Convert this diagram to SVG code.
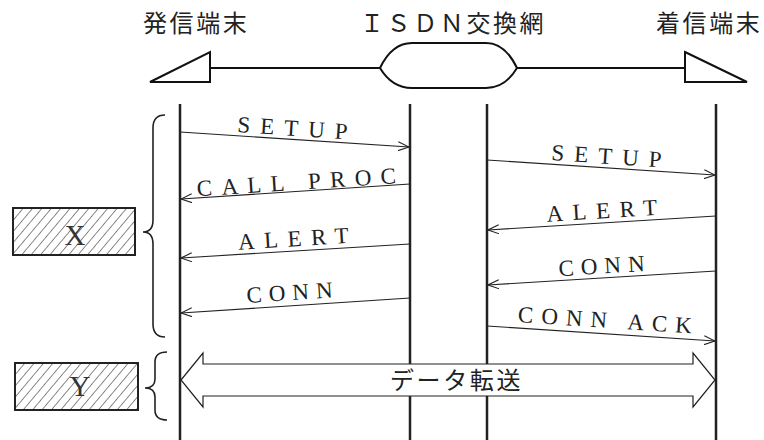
<svg xmlns="http://www.w3.org/2000/svg" width="764" height="440" viewBox="0 0 764 440">
<style>
.jp{font-family:"Noto Sans CJK JP","Noto Sans",sans-serif;font-size:24px;fill:#222;letter-spacing:2.6px}
.msg{font-family:"Liberation Serif","DejaVu Serif",serif;font-size:23px;fill:#222;letter-spacing:9.4px;text-anchor:middle}
.box{font-family:"Liberation Serif","DejaVu Serif",serif;font-size:29px;fill:#333;text-anchor:middle}
.life{stroke:#222;stroke-width:2.5;fill:none}
.thick{stroke:#111;stroke-width:2;fill:#fff}
.arr{stroke:#222;stroke-width:1.1;fill:none;marker-end:url(#ah)}
.brace{stroke:#222;stroke-width:1.6;fill:none}
</style>
<defs>
<marker id="ah" viewBox="0 0 12 10" refX="11" refY="5" markerWidth="12" markerHeight="10" markerUnits="userSpaceOnUse" orient="auto">
<path d="M0,0.5 L11,5 L0,9.5" fill="none" stroke="#222" stroke-width="1.1"/>
</marker>
<pattern id="hatch" width="7.2" height="7.2" patternUnits="userSpaceOnUse" patternTransform="rotate(40)">
<rect width="7.2" height="7.2" fill="#fff"/>
<line x1="0" y1="0" x2="0" y2="7.2" stroke="#2a2a2a" stroke-width="1.1"/>
</pattern>
</defs>
<rect width="764" height="440" fill="#fff"/>

<g id="labels">
<text class="jp" x="143" y="32">発信端末</text>
<text class="jp" x="360" y="32">ＩＳＤＮ交換網</text>
<text class="jp" x="656" y="32">着信端末</text>
</g>

<g id="topline">
<line x1="210" y1="68" x2="380" y2="68" stroke="#111" stroke-width="2"/>
<line x1="517" y1="68" x2="685" y2="68" stroke="#111" stroke-width="2"/>
</g>
<g id="caller-terminal"><polygon class="thick" points="150,82 210,52 210,82"/></g>
<g id="isdn-network"><path class="thick" d="M380,68 Q392,43 412,43 L486,43 Q505,43 517,68 Q505,88 486,88 L412,88 Q392,88 380,68 Z"/></g>
<g id="callee-terminal"><polygon class="thick" points="685,52 747,82 685,82"/></g>

<g id="lifelines">
<line class="life" x1="180" y1="104" x2="180" y2="440"/>
<line class="life" x1="410" y1="104" x2="410" y2="440"/>
<line class="life" x1="487" y1="104" x2="487" y2="440"/>
<line class="life" x1="716" y1="104" x2="716" y2="440"/>
</g>

<g id="box-x">
<rect x="13" y="208" width="122" height="47" fill="url(#hatch)" stroke="#222" stroke-width="2"/>
<text class="box" x="75" y="245">X</text>
</g>
<g id="box-y">
<rect x="15" y="363" width="123" height="47" fill="url(#hatch)" stroke="#222" stroke-width="2"/>
<text class="box" x="80" y="396">Y</text>
</g>
<g id="braces">
<path class="brace" d="M165,115 Q153,115 153,128 L153,220 Q153,232 143,232 Q153,232 153,244 L153,324 Q153,337 165,337"/>
<path class="brace" d="M167,352 Q155,352 155,362 L155,379 Q155,388 145,388 Q155,388 155,397 L155,410 Q155,420 167,420"/>
</g>

<g id="connectors">
<line class="arr" x1="180" y1="132" x2="409" y2="147"/>
<line class="arr" x1="410" y1="184" x2="181" y2="199"/>
<line class="arr" x1="410" y1="244" x2="181" y2="258"/>
<line class="arr" x1="410" y1="298" x2="181" y2="313"/>
<line class="arr" x1="487" y1="160" x2="715" y2="175"/>
<line class="arr" x1="716" y1="216" x2="488" y2="230"/>
<line class="arr" x1="716" y1="271" x2="488" y2="285"/>
<line class="arr" x1="487" y1="326" x2="715" y2="341"/>
<polygon points="181,380 203,353 203,364 693,364 693,353 715,380 693,407 693,396 203,396 203,407" fill="#fff" stroke="#222" stroke-width="1.2"/>
</g>

<g id="connector-labels">
<text class="msg" transform="translate(297,136) rotate(3.73)" style="letter-spacing:10px">SETUP</text>
<text class="msg" transform="translate(301.5,189.5) rotate(-3.73)" style="letter-spacing:9.3px">CALL PROC</text>
<text class="msg" transform="translate(298.5,246) rotate(-3.5)" style="letter-spacing:9.5px">ALERT</text>
<text class="msg" transform="translate(293.5,300) rotate(-3.73)" style="letter-spacing:7px">CONN</text>
<text class="msg" transform="translate(611,164) rotate(3.76)" style="letter-spacing:10px">SETUP</text>
<text class="msg" transform="translate(607,218) rotate(-3.5)" style="letter-spacing:9.5px">ALERT</text>
<text class="msg" transform="translate(605.5,273.3) rotate(-3.5)" style="letter-spacing:7px">CONN</text>
<text class="msg" transform="translate(608.5,328) rotate(3.76)" style="letter-spacing:8px">CONN ACK</text>
<text class="jp" x="390" y="389">データ転送</text>
</g>
</svg>
